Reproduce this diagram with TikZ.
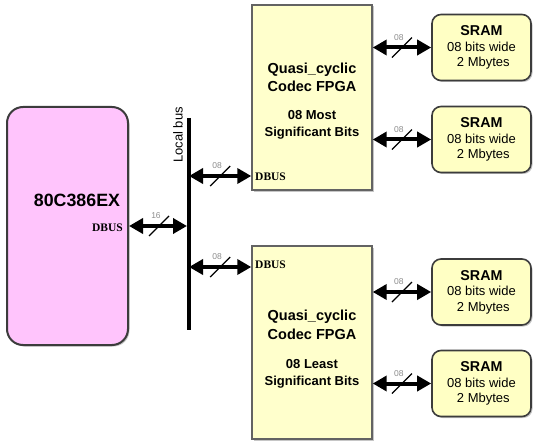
\documentclass[tikz,border=0pt]{standalone}
\usepackage{fontspec}
\setmainfont{Liberation Sans}
\newfontfamily\dbusfont{Liberation Serif}
\usetikzlibrary{arrows.meta,shadows}

\definecolor{cpuColor}{RGB}{255,196,252}
\definecolor{fpgaColor}{RGB}{255,255,204}
\definecolor{sramColor}{RGB}{255,255,196}
\definecolor{edgeColor}{RGB}{60,60,60}
\definecolor{widthColor}{RGB}{140,140,140}

\tikzset{
  boxshadow/.style={drop shadow={shadow xshift=1.5pt, shadow yshift=-1.5pt, opacity=.45}},
  cpubox/.style={draw=edgeColor, line width=2pt, fill=cpuColor, rounded corners=16pt,
    minimum width=121pt, minimum height=238pt, boxshadow},
  fpgabox/.style={draw=edgeColor!80, line width=1.4pt, fill=fpgaColor,
    minimum width=120pt, boxshadow},
  srambox/.style={draw=edgeColor, line width=1.6pt, fill=sramColor, rounded corners=9pt,
    minimum width=99pt, minimum height=66pt, align=center, inner sep=0pt,
    font=\fontsize{13}{15.5}\selectfont, boxshadow},
  cputitle/.style={inner sep=0pt, font=\bfseries\fontsize{17.8}{20}\selectfont},
  fpgatitle/.style={inner sep=0pt, align=center, font=\bfseries\fontsize{14.5}{18.5}\selectfont},
  fpgasub/.style={inner sep=0pt, align=center, font=\bfseries\fontsize{13}{17}\selectfont},
  dbuslabel/.style={inner sep=0pt, font=\dbusfont\bfseries\fontsize{11.5}{13}\selectfont},
  buslabel/.style={inner sep=0pt, rotate=90, font=\fontsize{13}{15}\selectfont},
  widthlabel/.style={inner sep=0pt, text=widthColor, font=\fontsize{8.5}{10}\selectfont},
  localbus/.style={line width=4pt},
  busarrow/.tip={Triangle[length=14pt, width=15pt]},
  databus/.style={draw=black, line width=4pt, busarrow-busarrow},
  pics/buswidth/.style={code={
    \draw[line width=1.2pt, draw=black] (-10,10) -- (10,-10);
    \node[widthlabel] at (-3,-10) {#1};
  }}
}

\begin{document}
\begin{tikzpicture}[x=1pt, y=-1pt]
  \useasboundingbox (0,0) rectangle (533,441);

  % processor
  \node[cpubox] (cpu) at (67.5,226) {};
  \node[cputitle] (cpuName) at (77,200) {80C386EX};
  \node[dbuslabel, anchor=east] (cpuDbus) at (123,228) {DBUS};

  % local bus
  \coordinate (busTop) at (189,118);
  \coordinate (busBot) at (189,330);
  \draw[localbus] (busTop) -- (busBot);
  \node[buslabel] (busName) at (178,135) {Local bus};

  % upper fpga
  \node[fpgabox, minimum height=185pt] (fpgaMsb) at (312,97.5) {};
  \node[fpgatitle] (msbName) at (312,77.5) {Quasi\_cyclic\\Codec FPGA};
  \node[fpgasub] (msbBits) at (312,124.5) {08 Most\\Significant Bits};
  \node[dbuslabel, anchor=west] (msbDbus) at (255,177) {DBUS};

  % lower fpga
  \node[fpgabox, minimum height=193pt] (fpgaLsb) at (312,342.5) {};
  \node[fpgatitle] (lsbName) at (312,325) {Quasi\_cyclic\\Codec FPGA};
  \node[fpgasub] (lsbBits) at (312,373.5) {08 Least\\Significant Bits};
  \node[dbuslabel, anchor=west] (lsbDbus) at (255,265) {DBUS};

  % memories
  \node[srambox] (sramA) at (481.5,47.5) {{\bfseries\fontsize{14.3}{17}\selectfont SRAM}\\08 bits wide\\\ 2 Mbytes};
  \node[srambox] (sramB) at (481.5,139.5) {{\bfseries\fontsize{14.3}{17}\selectfont SRAM}\\08 bits wide\\\ 2 Mbytes};
  \node[srambox] (sramC) at (481.5,292) {{\bfseries\fontsize{14.3}{17}\selectfont SRAM}\\08 bits wide\\\ 2 Mbytes};
  \node[srambox] (sramD) at (481.5,383.5) {{\bfseries\fontsize{14.3}{17}\selectfont SRAM}\\08 bits wide\\\ 2 Mbytes};

  % connectors
  \coordinate (tapMsb) at (189,176);
  \coordinate (tapLsb) at (189,267);
  \draw[databus, shorten >=2pt] (cpu.east) -- (cpu.east -| busTop);
  \draw[databus] (tapMsb) -- (tapMsb -| fpgaMsb.west);
  \draw[databus] (tapLsb) -- (tapLsb -| fpgaLsb.west);
  \draw[databus] (sramA.west -| fpgaMsb.east) -- (sramA.west);
  \draw[databus] (sramB.west -| fpgaMsb.east) -- (sramB.west);
  \draw[databus] (sramC.west -| fpgaLsb.east) -- (sramC.west);
  \draw[databus] (sramD.west -| fpgaLsb.east) -- (sramD.west);

  % bus widths
  \path (cpu.east) -- (cpu.east -| busTop) pic[midway]{buswidth=16};
  \path (tapMsb) -- (tapMsb -| fpgaMsb.west) pic[midway]{buswidth=08};
  \path (tapLsb) -- (tapLsb -| fpgaLsb.west) pic[midway]{buswidth=08};
  \path (sramA.west -| fpgaMsb.east) -- (sramA.west) pic[midway]{buswidth=08};
  \path (sramB.west -| fpgaMsb.east) -- (sramB.west) pic[midway]{buswidth=08};
  \path (sramC.west -| fpgaLsb.east) -- (sramC.west) pic[midway]{buswidth=08};
  \path (sramD.west -| fpgaLsb.east) -- (sramD.west) pic[midway]{buswidth=08};
\end{tikzpicture}
\end{document}
